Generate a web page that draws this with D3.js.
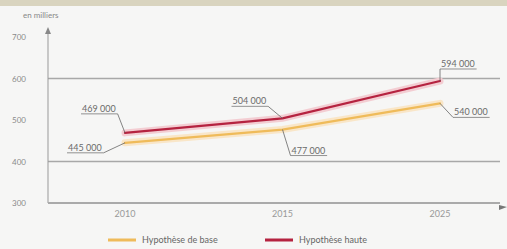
<!DOCTYPE html>
<html>
<head>
<meta charset="utf-8">
<script src="https://cdn.jsdelivr.net/npm/d3@7"></script>
<style>
  body { margin: 0; background: #f6f6f5; }
  svg { display: block; font-family: Lato, "Open Sans", sans-serif; }
</style>
</head>
<body>
<div id="viz"></div>
<script>
var years = ['2010', '2015', '2025'];
var baseValues = [445, 477, 540];
var highValues = [469, 504, 594];
var yTicks = [300, 400, 500, 600, 700];
var gridValues = [400, 600];
var seriesNames = ['Hypothèse de base', 'Hypothèse haute'];

// label placement relative to its point; end = which end of the underline gets the leader
var labelPos = [
  {s: 1, i: 0, dx: -43, dy: -19, end: 'right'},
  {s: 0, i: 0, dx: -57, dy: 10, end: 'right'},
  {s: 1, i: 1, dx: -50, dy: -12, end: 'right'},
  {s: 0, i: 1, dx: 9, dy: 26, end: 'left'},
  {s: 1, i: 2, dx: 1, dy: -12, end: 'left'},
  {s: 0, i: 2, dx: 14, dy: 14, end: 'left'}
];

var W = 507, H = 249;
var svg = d3.select('#viz').append('svg').attr('width', W).attr('height', H);

svg.append('rect').attr('width', W).attr('height', H).attr('fill', '#f6f6f5');
svg.append('rect').attr('width', W).attr('height', 6).attr('fill', '#d9d4bf');

var x = d3.scalePoint().domain(years).range([125, 440]);
var y = d3.scaleLinear().domain([300, 700]).range([203, 37]);

// grid
svg.selectAll('.grid').data(gridValues).enter().append('line')
  .attr('x1', 48).attr('x2', 500)
  .attr('y1', function(d) { return y(d); }).attr('y2', function(d) { return y(d); })
  .attr('stroke', '#a8a8a8').attr('stroke-width', 1.5);

// axes
svg.append('line').attr('x1', 48).attr('x2', 48).attr('y1', y(300)).attr('y2', 30)
  .attr('stroke', '#999').attr('stroke-width', 1);
svg.append('path').attr('d', 'M45,34 L48,27 L51,34 Z').attr('fill', '#888');
svg.append('line').attr('x1', 48).attr('x2', 500).attr('y1', y(300)).attr('y2', y(300))
  .attr('stroke', '#aaa').attr('stroke-width', 2);
svg.append('path').attr('d', 'M499,205 L507,207 L499,210 Z').attr('fill', '#777');

svg.selectAll('.ytick').data(yTicks).enter().append('text')
  .attr('x', 26).attr('y', function(d) { return y(d) + 3; })
  .attr('text-anchor', 'end').attr('font-size', 8).attr('fill', '#8a8a8a')
  .text(function(d) { return d; });

svg.append('text').attr('x', 23).attr('y', 18).attr('font-size', 8).attr('fill', '#888')
  .text('en milliers');

svg.selectAll('.xtick').data(years).enter().append('text')
  .attr('x', function(d) { return x(d); }).attr('y', 217)
  .attr('text-anchor', 'middle').attr('font-size', 9).attr('fill', '#999')
  .text(function(d) { return d; });

// lines
var series = [
  {name: seriesNames[0], values: baseValues, color: '#efbb5a', glow: '#f9e6c8'},
  {name: seriesNames[1], values: highValues, color: '#b52340', glow: '#f3cdd2'}
];
var line = d3.line()
  .x(function(d, i) { return x(years[i]); })
  .y(function(d) { return y(d); });

series.forEach(function(s) {
  svg.append('path').attr('d', line(s.values)).attr('fill', 'none')
    .attr('stroke', s.glow).attr('stroke-width', 7).attr('stroke-linecap', 'round');
});
series.forEach(function(s) {
  svg.append('path').attr('d', line(s.values)).attr('fill', 'none')
    .attr('stroke', s.color).attr('stroke-width', 2.2).attr('stroke-linecap', 'round');
});

// annotations
function fmt(v) { return v + ' 000'; }
labelPos.forEach(function(p) {
  var v = series[p.s].values[p.i];
  var px = x(years[p.i]), py = y(v);
  var tx = px + p.dx, uy = py + p.dy;
  var t = svg.append('text').attr('x', tx).attr('y', uy - 2)
    .attr('font-size', 9).attr('fill', '#6a6a6a').text(fmt(v));
  var w = t.node().getComputedTextLength();
  svg.append('line').attr('x1', tx - 1).attr('x2', tx + w + 2).attr('y1', uy).attr('y2', uy)
    .attr('stroke', '#777').attr('stroke-width', 0.8);
  var ex = p.end === 'right' ? tx + w + 2 : tx - 1;
  svg.append('line').attr('x1', ex).attr('y1', uy).attr('x2', px).attr('y2', py)
    .attr('stroke', '#666').attr('stroke-width', 0.8);
});

// legend
var legX = [108, 265];
series.forEach(function(s, i) {
  svg.append('line').attr('x1', legX[i]).attr('x2', legX[i] + 28).attr('y1', 240).attr('y2', 240)
    .attr('stroke', s.color).attr('stroke-width', 3);
  svg.append('text').attr('x', legX[i] + 34).attr('y', 243).attr('font-size', 9).attr('fill', '#666')
    .text(s.name);
});
</script>
</body>
</html>
